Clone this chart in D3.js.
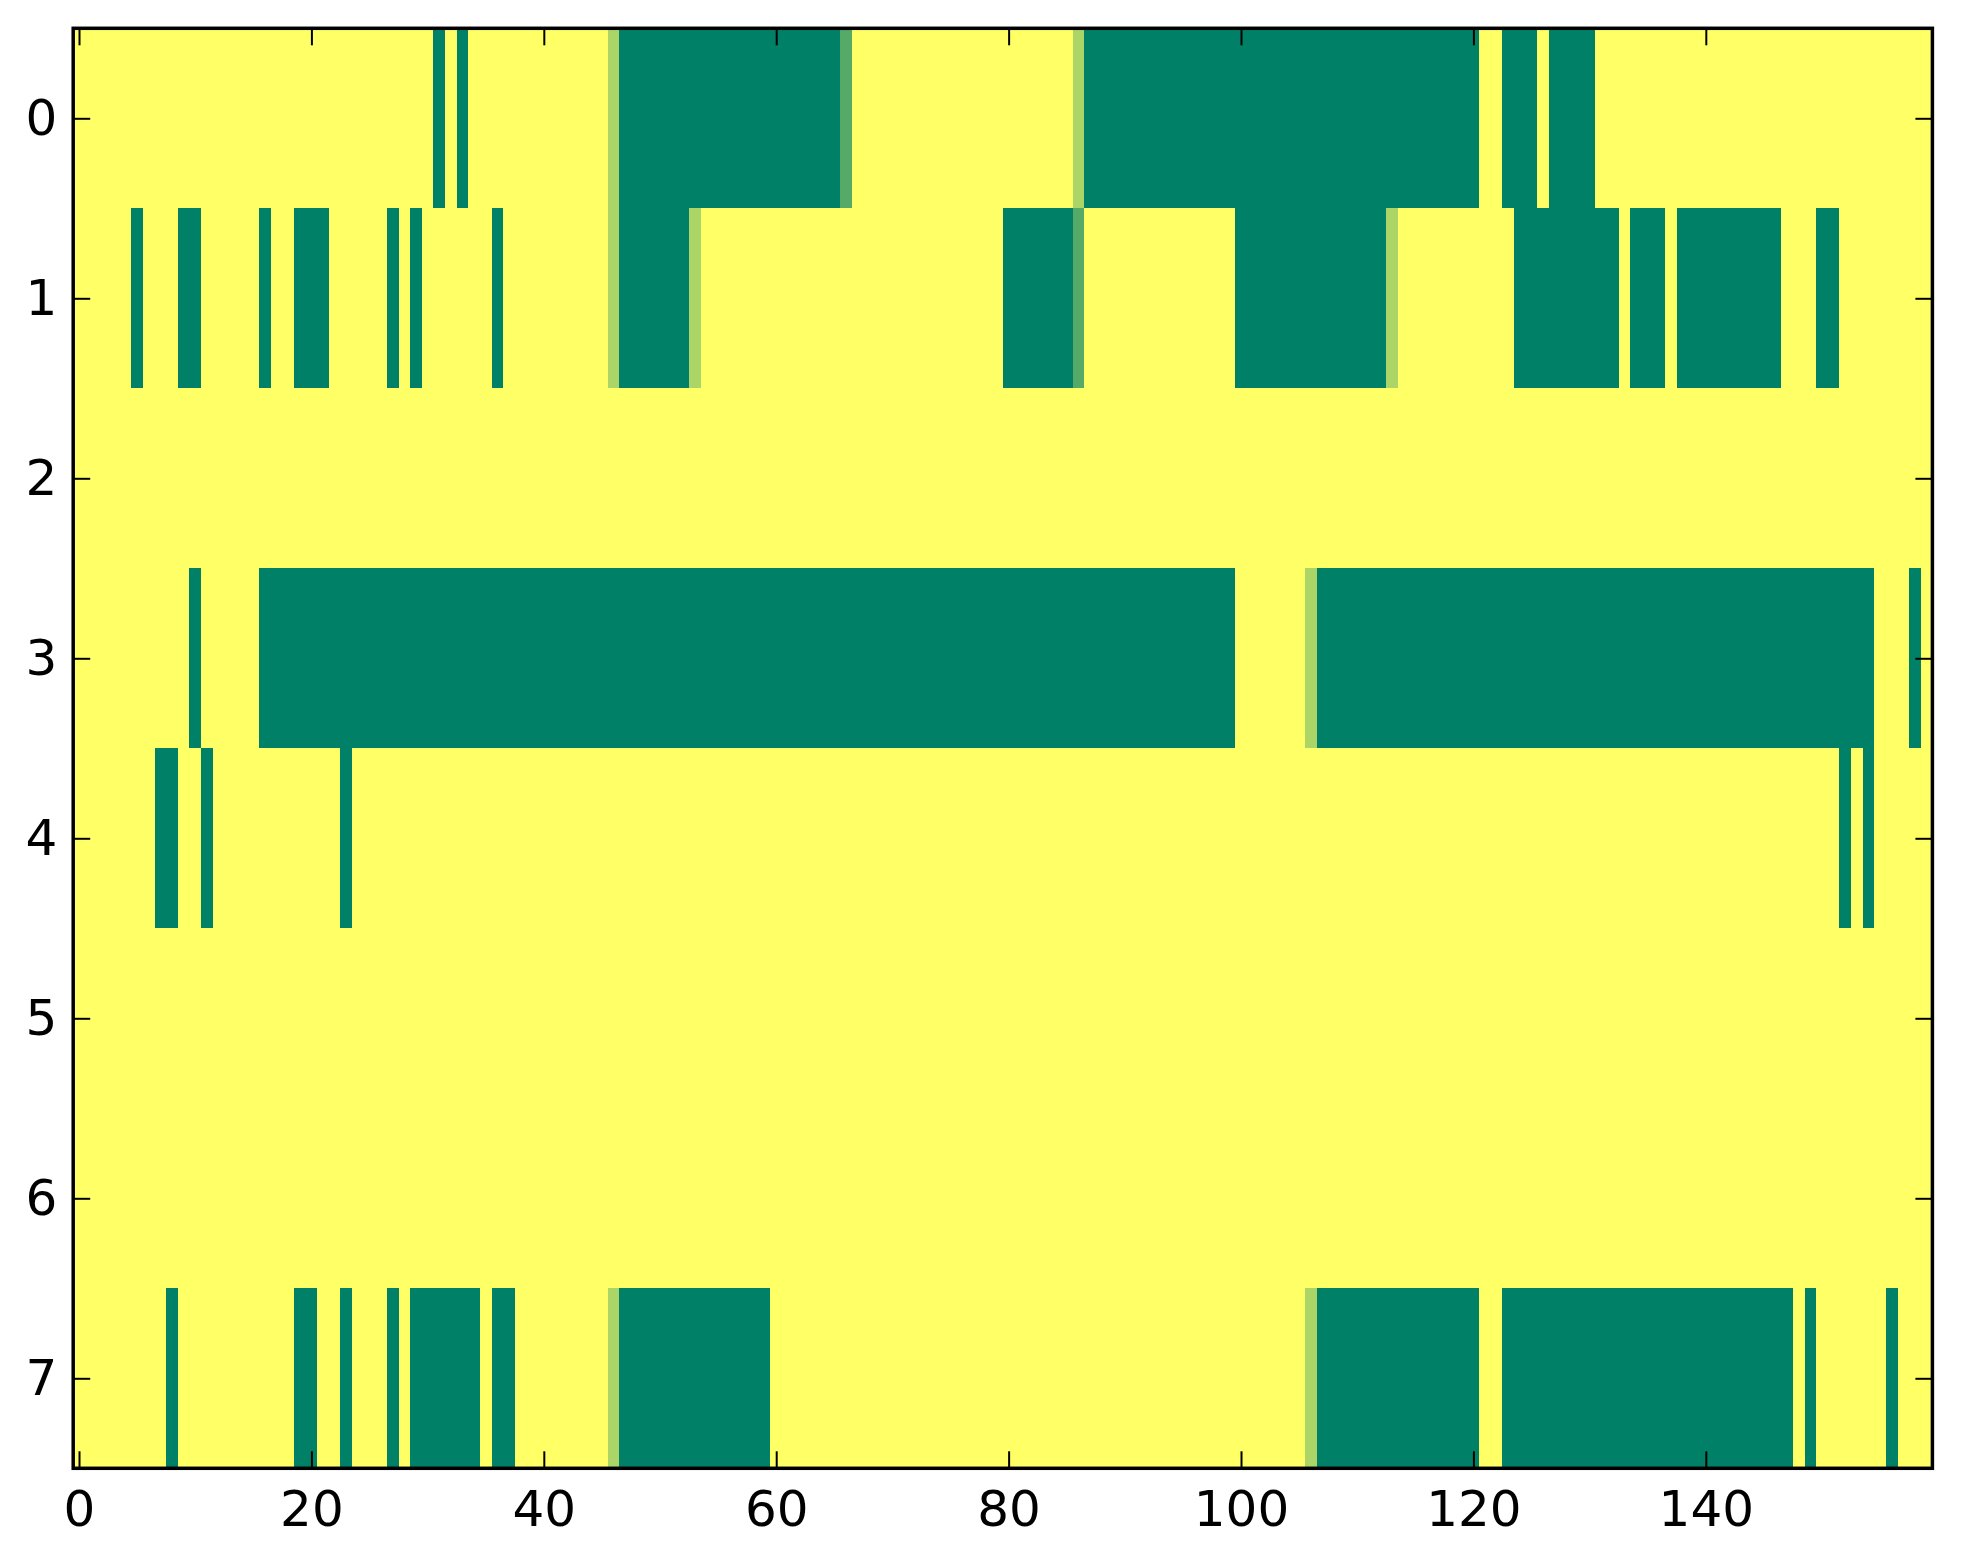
<!DOCTYPE html>
<html>
<head>
<meta charset="utf-8">
<script src="https://cdn.jsdelivr.net/npm/d3@7/dist/d3.min.js"></script>
<style>
  body { margin: 0; background: #ffffff; }
  svg { display: block; }
  .tick text { font-family: "DejaVu Sans", sans-serif; font-size: 50px; fill: #000; }
  .tick line { stroke: #000; stroke-width: 2; }
</style>
</head>
<body>
<div id="chart"></div>
<script>
// heat map rows, 160 cells each (1 = yellow, 0 = dark green)
const row0 = [
  1,1,1,1,1,1,1,1,1,1,1,1,1,1,1,1,1,1,1,1,
  1,1,1,1,1,1,1,1,1,1,1,0,1,0,1,1,1,1,1,1,
  1,1,1,1,1,1,0.67,0,0,0,0,0,0,0,0,0,0,0,0,0,
  0,0,0,0,0,0,0.33,1,1,1,1,1,1,1,1,1,1,1,1,1,
  1,1,1,1,1,1,0.67,0,0,0,0,0,0,0,0,0,0,0,0,0,
  0,0,0,0,0,0,0,0,0,0,0,0,0,0,0,0,0,0,0,0,
  0,1,1,0,0,0,1,0,0,0,0,1,1,1,1,1,1,1,1,1,
  1,1,1,1,1,1,1,1,1,1,1,1,1,1,1,1,1,1,1,1
];
const row1 = [
  1,1,1,1,1,0,1,1,1,0,0,1,1,1,1,1,0,1,1,0,
  0,0,1,1,1,1,1,0,1,0,1,1,1,1,1,1,0,1,1,1,
  1,1,1,1,1,1,0.67,0,0,0,0,0,0,0.67,1,1,1,1,1,1,
  1,1,1,1,1,1,1,1,1,1,1,1,1,1,1,1,1,1,1,1,
  0,0,0,0,0,0,0.33,1,1,1,1,1,1,1,1,1,1,1,1,1,
  0,0,0,0,0,0,0,0,0,0,0,0,0,0.67,1,1,1,1,1,1,
  1,1,1,1,0,0,0,0,0,0,0,0,0,1,0,0,0,1,0,0,
  0,0,0,0,0,0,0,1,1,1,0,0,1,1,1,1,1,1,1,1
];
const row2 = [
  1,1,1,1,1,1,1,1,1,1,1,1,1,1,1,1,1,1,1,1,
  1,1,1,1,1,1,1,1,1,1,1,1,1,1,1,1,1,1,1,1,
  1,1,1,1,1,1,1,1,1,1,1,1,1,1,1,1,1,1,1,1,
  1,1,1,1,1,1,1,1,1,1,1,1,1,1,1,1,1,1,1,1,
  1,1,1,1,1,1,1,1,1,1,1,1,1,1,1,1,1,1,1,1,
  1,1,1,1,1,1,1,1,1,1,1,1,1,1,1,1,1,1,1,1,
  1,1,1,1,1,1,1,1,1,1,1,1,1,1,1,1,1,1,1,1,
  1,1,1,1,1,1,1,1,1,1,1,1,1,1,1,1,1,1,1,1
];
const row3 = [
  1,1,1,1,1,1,1,1,1,1,0,1,1,1,1,1,0,0,0,0,
  0,0,0,0,0,0,0,0,0,0,0,0,0,0,0,0,0,0,0,0,
  0,0,0,0,0,0,0,0,0,0,0,0,0,0,0,0,0,0,0,0,
  0,0,0,0,0,0,0,0,0,0,0,0,0,0,0,0,0,0,0,0,
  0,0,0,0,0,0,0,0,0,0,0,0,0,0,0,0,0,0,0,0,
  1,1,1,1,1,1,0.67,0,0,0,0,0,0,0,0,0,0,0,0,0,
  0,0,0,0,0,0,0,0,0,0,0,0,0,0,0,0,0,0,0,0,
  0,0,0,0,0,0,0,0,0,0,0,0,0,0,0,1,1,1,0,1
];
const row4 = [
  1,1,1,1,1,1,1,0,0,1,1,0,1,1,1,1,1,1,1,1,
  1,1,1,0,1,1,1,1,1,1,1,1,1,1,1,1,1,1,1,1,
  1,1,1,1,1,1,1,1,1,1,1,1,1,1,1,1,1,1,1,1,
  1,1,1,1,1,1,1,1,1,1,1,1,1,1,1,1,1,1,1,1,
  1,1,1,1,1,1,1,1,1,1,1,1,1,1,1,1,1,1,1,1,
  1,1,1,1,1,1,1,1,1,1,1,1,1,1,1,1,1,1,1,1,
  1,1,1,1,1,1,1,1,1,1,1,1,1,1,1,1,1,1,1,1,
  1,1,1,1,1,1,1,1,1,1,1,1,0,1,0,1,1,1,1,1
];
const row5 = [
  1,1,1,1,1,1,1,1,1,1,1,1,1,1,1,1,1,1,1,1,
  1,1,1,1,1,1,1,1,1,1,1,1,1,1,1,1,1,1,1,1,
  1,1,1,1,1,1,1,1,1,1,1,1,1,1,1,1,1,1,1,1,
  1,1,1,1,1,1,1,1,1,1,1,1,1,1,1,1,1,1,1,1,
  1,1,1,1,1,1,1,1,1,1,1,1,1,1,1,1,1,1,1,1,
  1,1,1,1,1,1,1,1,1,1,1,1,1,1,1,1,1,1,1,1,
  1,1,1,1,1,1,1,1,1,1,1,1,1,1,1,1,1,1,1,1,
  1,1,1,1,1,1,1,1,1,1,1,1,1,1,1,1,1,1,1,1
];
const row6 = [
  1,1,1,1,1,1,1,1,1,1,1,1,1,1,1,1,1,1,1,1,
  1,1,1,1,1,1,1,1,1,1,1,1,1,1,1,1,1,1,1,1,
  1,1,1,1,1,1,1,1,1,1,1,1,1,1,1,1,1,1,1,1,
  1,1,1,1,1,1,1,1,1,1,1,1,1,1,1,1,1,1,1,1,
  1,1,1,1,1,1,1,1,1,1,1,1,1,1,1,1,1,1,1,1,
  1,1,1,1,1,1,1,1,1,1,1,1,1,1,1,1,1,1,1,1,
  1,1,1,1,1,1,1,1,1,1,1,1,1,1,1,1,1,1,1,1,
  1,1,1,1,1,1,1,1,1,1,1,1,1,1,1,1,1,1,1,1
];
const row7 = [
  1,1,1,1,1,1,1,1,0,1,1,1,1,1,1,1,1,1,1,0,
  0,1,1,0,1,1,1,0,1,0,0,0,0,0,0,1,0,0,1,1,
  1,1,1,1,1,1,0.67,0,0,0,0,0,0,0,0,0,0,0,0,0,
  1,1,1,1,1,1,1,1,1,1,1,1,1,1,1,1,1,1,1,1,
  1,1,1,1,1,1,1,1,1,1,1,1,1,1,1,1,1,1,1,1,
  1,1,1,1,1,1,0.67,0,0,0,0,0,0,0,0,0,0,0,0,0,
  0,1,1,0,0,0,0,0,0,0,0,0,0,0,0,0,0,0,0,0,
  0,0,0,0,0,0,0,0,1,0,1,1,1,1,1,1,0,1,1,1
];
const rows = [row0, row1, row2, row3, row4, row5, row6, row7];

const xTicks = [0, 20, 40, 60, 80, 100, 120, 140];
const yTicks = [0, 1, 2, 3, 4, 5, 6, 7];

// layout
const W = 1963, H = 1564;
const margin = { top: 28.3, left: 73.2, right: 30.6, bottom: 95.7 };
const width = W - margin.left - margin.right;
const height = H - margin.top - margin.bottom;
const nCols = row0.length;

const svg = d3.select("#chart").append("svg")
    .attr("width", W)
    .attr("height", H);

const g = svg.append("g")
    .attr("transform", `translate(${margin.left},${margin.top})`);

// scales
const xBand = d3.scaleBand().domain(d3.range(nCols)).range([0, width]).padding(0);
const yBand = d3.scaleBand().domain(d3.range(rows.length)).range([0, height]).padding(0);
const xLin = d3.scaleLinear().domain([-0.5, nCols - 0.5]).range([0, width]);
const yLin = d3.scaleLinear().domain([-0.5, rows.length - 0.5]).range([0, height]);

// matplotlib "summer" colormap
const color = d3.scaleLinear().domain([0, 1]).range(["#008066", "#ffff66"]);

// cells
const cells = [];
rows.forEach((r, i) => r.forEach((v, j) => cells.push({ row: i, col: j, v })));

g.append("g")
    .attr("shape-rendering", "crispEdges")
    .selectAll("rect")
    .data(cells)
    .enter()
    .append("rect")
    .attr("x", d => xBand(d.col))
    .attr("y", d => yBand(d.row))
    .attr("width", xBand.bandwidth() + 0.6)
    .attr("height", yBand.bandwidth() + 0.6)
    .attr("fill", d => color(d.v));

// axes, ticks pointing inward
const tickLen = 17;
g.append("g")
    .attr("transform", `translate(0,${height})`)
    .call(d3.axisBottom(xLin).tickValues(xTicks).tickFormat(d3.format("d"))
        .tickSizeInner(-tickLen).tickSizeOuter(0).tickPadding(22));
g.append("g")
    .call(d3.axisTop(xLin).tickValues(xTicks).tickFormat("")
        .tickSizeInner(-tickLen).tickSizeOuter(0));
g.append("g")
    .call(d3.axisLeft(yLin).tickValues(yTicks).tickFormat(d3.format("d"))
        .tickSizeInner(-tickLen).tickSizeOuter(0).tickPadding(16));
g.append("g")
    .attr("transform", `translate(${width},0)`)
    .call(d3.axisRight(yLin).tickValues(yTicks).tickFormat("")
        .tickSizeInner(-tickLen).tickSizeOuter(0));

g.selectAll(".domain").remove();

// frame
g.append("rect")
    .attr("width", width)
    .attr("height", height)
    .attr("fill", "none")
    .attr("stroke", "#000")
    .attr("stroke-width", 3.5);
</script>
</body>
</html>
